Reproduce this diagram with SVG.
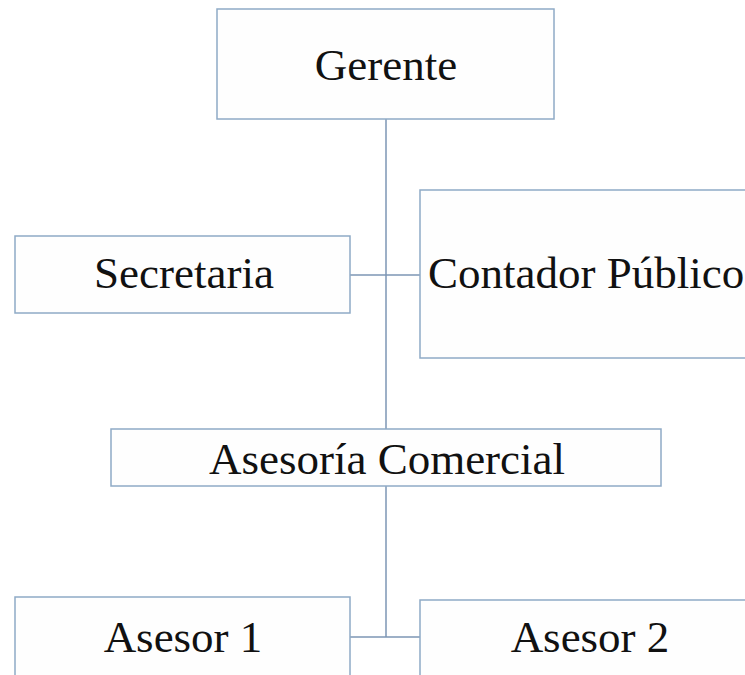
<svg xmlns="http://www.w3.org/2000/svg" width="745" height="675" viewBox="0 0 745 675">
<style>
.box{fill:#fefefe;stroke:#8faac6;stroke-width:1.5}
.lbl{font-family:"Liberation Serif","Times New Roman",serif;font-size:45px;fill:#111111}
.c{text-anchor:middle}
.ln{stroke:#7d96b4;stroke-width:1.5;fill:none}
</style>
<rect width="745" height="675" fill="#ffffff"/>
<g id="connectors">
<line class="ln" x1="386" y1="119" x2="386" y2="429"/>
<line class="ln" x1="350" y1="275" x2="420" y2="275"/>
<line class="ln" x1="386" y1="486" x2="386" y2="637"/>
<line class="ln" x1="350" y1="637" x2="420" y2="637"/>
</g>
<g id="gerente">
<rect class="box" x="217" y="9" width="337" height="110"/>
<text class="lbl c" x="386" y="80">Gerente</text>
</g>
<g id="secretaria">
<rect class="box" x="15" y="236" width="335" height="77"/>
<text class="lbl c" x="184" y="288">Secretaria</text>
</g>
<g id="contador">
<rect class="box" x="420" y="190" width="340" height="168"/>
<text class="lbl" x="428" y="288">Contador Público</text>
</g>
<g id="asesoria">
<rect class="box" x="111" y="429" width="550" height="57"/>
<text class="lbl c" x="387" y="474">Asesoría Comercial</text>
</g>
<g id="asesor1">
<rect class="box" x="15" y="597" width="335" height="90"/>
<text class="lbl c" x="183" y="652">Asesor 1</text>
</g>
<g id="asesor2">
<rect class="box" x="420" y="600" width="340" height="90"/>
<text class="lbl c" x="590" y="652">Asesor 2</text>
</g>
</svg>
